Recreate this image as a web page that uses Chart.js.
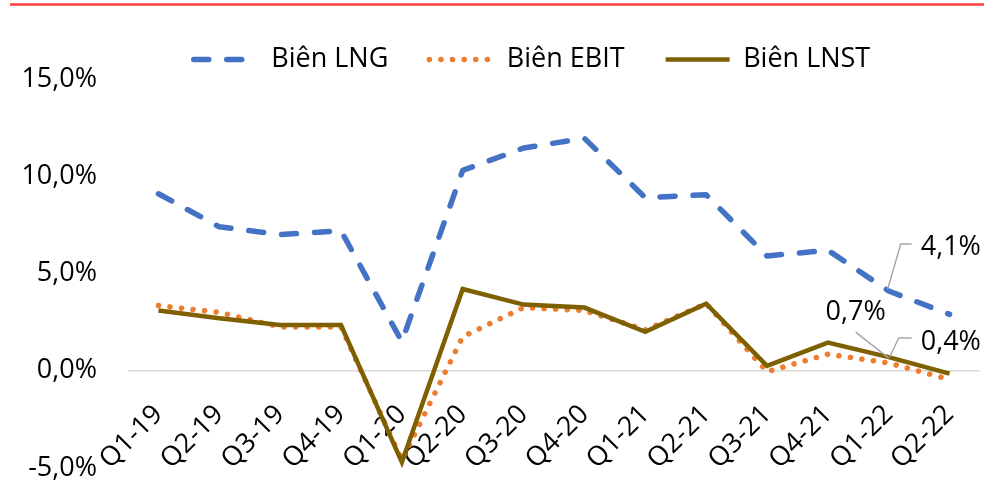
<!DOCTYPE html>
<html>
<head>
<meta charset="utf-8">
<script src="https://cdn.jsdelivr.net/npm/chart.js@4"></script>
<style>
  html, body { margin: 0; padding: 0; background: #ffffff; }
  #wrap { width: 989px; height: 482px; position: relative; }
</style>
</head>
<body>
<div id="wrap"><canvas id="c"></canvas></div>
<script>
// ---- data ----
const categories = ['Q1-19','Q2-19','Q3-19','Q4-19','Q1-20','Q2-20','Q3-20','Q4-20','Q1-21','Q2-21','Q3-21','Q4-21','Q1-22','Q2-22'];
const bienLNG  = [9.1, 7.4, 7.0, 7.2, 1.5, 10.3, 11.45, 11.95, 8.9, 9.05, 5.9, 6.2, 4.1, 2.9];
const bienEBIT = [3.35, 3.0, 2.25, 2.25, -4.6, 1.75, 3.25, 3.1, 2.1, 3.45, -0.05, 0.85, 0.4, -0.45];
const bienLNST = [3.1, 2.7, 2.35, 2.35, -4.7, 4.2, 3.4, 3.25, 2.0, 3.45, 0.25, 1.45, 0.7, -0.15];
const seriesNames = ['Biên LNG', 'Biên EBIT', 'Biên LNST'];
const yMin = -5, yMax = 15, yStep = 5;
// labelled points: [datasetIndex, dataIndex]
const labelledPoints = [[0, 12], [2, 12], [1, 12]];

const FONT = "'Open Sans', 'Noto Sans', sans-serif";
const fmt = v => v.toFixed(1).replace('.', ',') + '%';

// leader/label styling relative to the point pixel
const labelStyles = [
  { path: [[-1, -2], [12, -47], [23, -47]], tx: 32, ty: -44, align: 'left' },   // LNG
  { path: [[0, 1], [-33, -25]], tx: -3, ty: -45, align: 'right' },            // LNST
  { path: [[1, -6], [10, -25], [23, -25]], tx: 32, ty: -21, align: 'left' }    // EBIT
];

const topRule = {
  id: 'topRule',
  beforeDraw(chart) {
    const ctx = chart.ctx;
    ctx.save();
    ctx.fillStyle = '#ffffff';
    ctx.fillRect(0, 0, chart.width, chart.height);
    ctx.strokeStyle = '#FF3D3D';
    ctx.lineWidth = 2.5;
    ctx.beginPath();
    ctx.moveTo(10, 4.5);
    ctx.lineTo(984, 4.5);
    ctx.stroke();
    ctx.restore();
  }
};

const legendFix = {
  id: 'legendFix',
  beforeLayout(chart) {
    const lg = chart.legend;
    if (lg && !lg._fixed) {
      const orig = lg.fit;
      lg.fit = function () { orig.call(this); this.height = 74; };
      lg._fixed = true;
    }
  },
  afterLayout(chart) {
    const lg = chart.legend;
    if (lg) {
      lg.left = 84;
      lg.right = chart.chartArea.right;
      lg.width = lg.right - lg.left;
    }
  }
};

const pointLabels = {
  id: 'pointLabels',
  afterDatasetsDraw(chart) {
    const ctx = chart.ctx;
    ctx.save();
    labelledPoints.forEach(([ds, idx], k) => {
      const el = chart.getDatasetMeta(ds).data[idx];
      const st = labelStyles[k];
      const px = el.x, py = el.y;
      ctx.strokeStyle = '#A6A6A6';
      ctx.lineWidth = 1.4;
      ctx.beginPath();
      st.path.forEach(([dx, dy], i) => {
        if (i === 0) ctx.moveTo(px + dx, py + dy); else ctx.lineTo(px + dx, py + dy);
      });
      ctx.stroke();
      ctx.fillStyle = '#000000';
      ctx.font = '27px ' + FONT;
      ctx.textAlign = st.align;
      ctx.textBaseline = 'middle';
      ctx.fillText(fmt(chart.data.datasets[ds].data[idx]), px + st.tx, py + st.ty);
    });
    ctx.restore();
  }
};

new Chart(document.getElementById('c'), {
  type: 'line',
  data: {
    labels: categories,
    datasets: [
      { label: seriesNames[0], data: bienLNG, borderColor: '#4472C4', backgroundColor: '#4472C4',
        borderWidth: 5.5, borderDash: [15, 18], borderCapStyle: 'round', borderJoinStyle: 'round',
        pointRadius: 0, tension: 0, order: 0 },
      { label: seriesNames[1], data: bienEBIT, borderColor: '#ED7D31', backgroundColor: '#ED7D31',
        borderWidth: 5.5, borderDash: [0.1, 11.5], borderCapStyle: 'round', borderJoinStyle: 'round',
        pointRadius: 0, tension: 0, order: 2 },
      { label: seriesNames[2], data: bienLNST, borderColor: '#7F6000', backgroundColor: '#7F6000',
        borderWidth: 4.5, borderCapStyle: 'butt', borderJoinStyle: 'miter',
        pointRadius: 0, tension: 0, order: 1 }
    ]
  },
  options: {
    responsive: true,
    maintainAspectRatio: false,
    animation: false,
    devicePixelRatio: 1,
    layout: { padding: { left: 0, right: 9, top: 5, bottom: 14 } },
    plugins: {
      legend: {
        position: 'top',
        align: 'center',
        labels: {
          usePointStyle: true,
          pointStyle: 'line',
          pointStyleWidth: 64,
          padding: 41,
          color: '#000000',
          font: { family: FONT, size: 27 },
          sort: (a, b) => a.datasetIndex - b.datasetIndex,
          generateLabels(chart) {
            const items = Chart.defaults.plugins.legend.labels.generateLabels(chart);
            items.forEach(it => {
              const ds = chart.data.datasets[it.datasetIndex];
              it.lineWidth = ds.borderWidth;
              it.lineDash = ds.borderDash || [];
              it.lineCap = ds.borderCapStyle || 'butt';
              it.strokeStyle = ds.borderColor;
              it.pointStyle = 'line';
            });
            return items;
          }
        }
      },
      tooltip: { enabled: false }
    },
    scales: {
      x: {
        type: 'category',
        position: { y: 0 },
        offset: true,
        grid: { display: false, drawTicks: false },
        border: { display: false },
        ticks: {
          autoSkip: false, maxRotation: 45, minRotation: 45, padding: 28,
          color: '#000000', font: { family: FONT, size: 27 }
        },
        afterFit(scale) { scale.height = 0; scale.paddingLeft = 0; scale.paddingRight = 0; }
      },
      y: {
        min: yMin, max: yMax,
        grid: {
          drawTicks: true,
          tickLength: 31,
          tickColor: 'rgba(0,0,0,0)',
          lineWidth: 1.5,
          color: ctx => (ctx.tick && ctx.tick.value === 0) ? '#D9D9D9' : 'rgba(0,0,0,0)'
        },
        border: { display: false },
        ticks: {
          stepSize: yStep, padding: 0, color: '#000000',
          font: { family: FONT, size: 27, lineHeight: 1 },
          callback: v => fmt(v)
        },
        afterFit(scale) { scale.width = 128; }
      }
    }
  },
  plugins: [topRule, legendFix, pointLabels]
});
</script>
</body>
</html>
